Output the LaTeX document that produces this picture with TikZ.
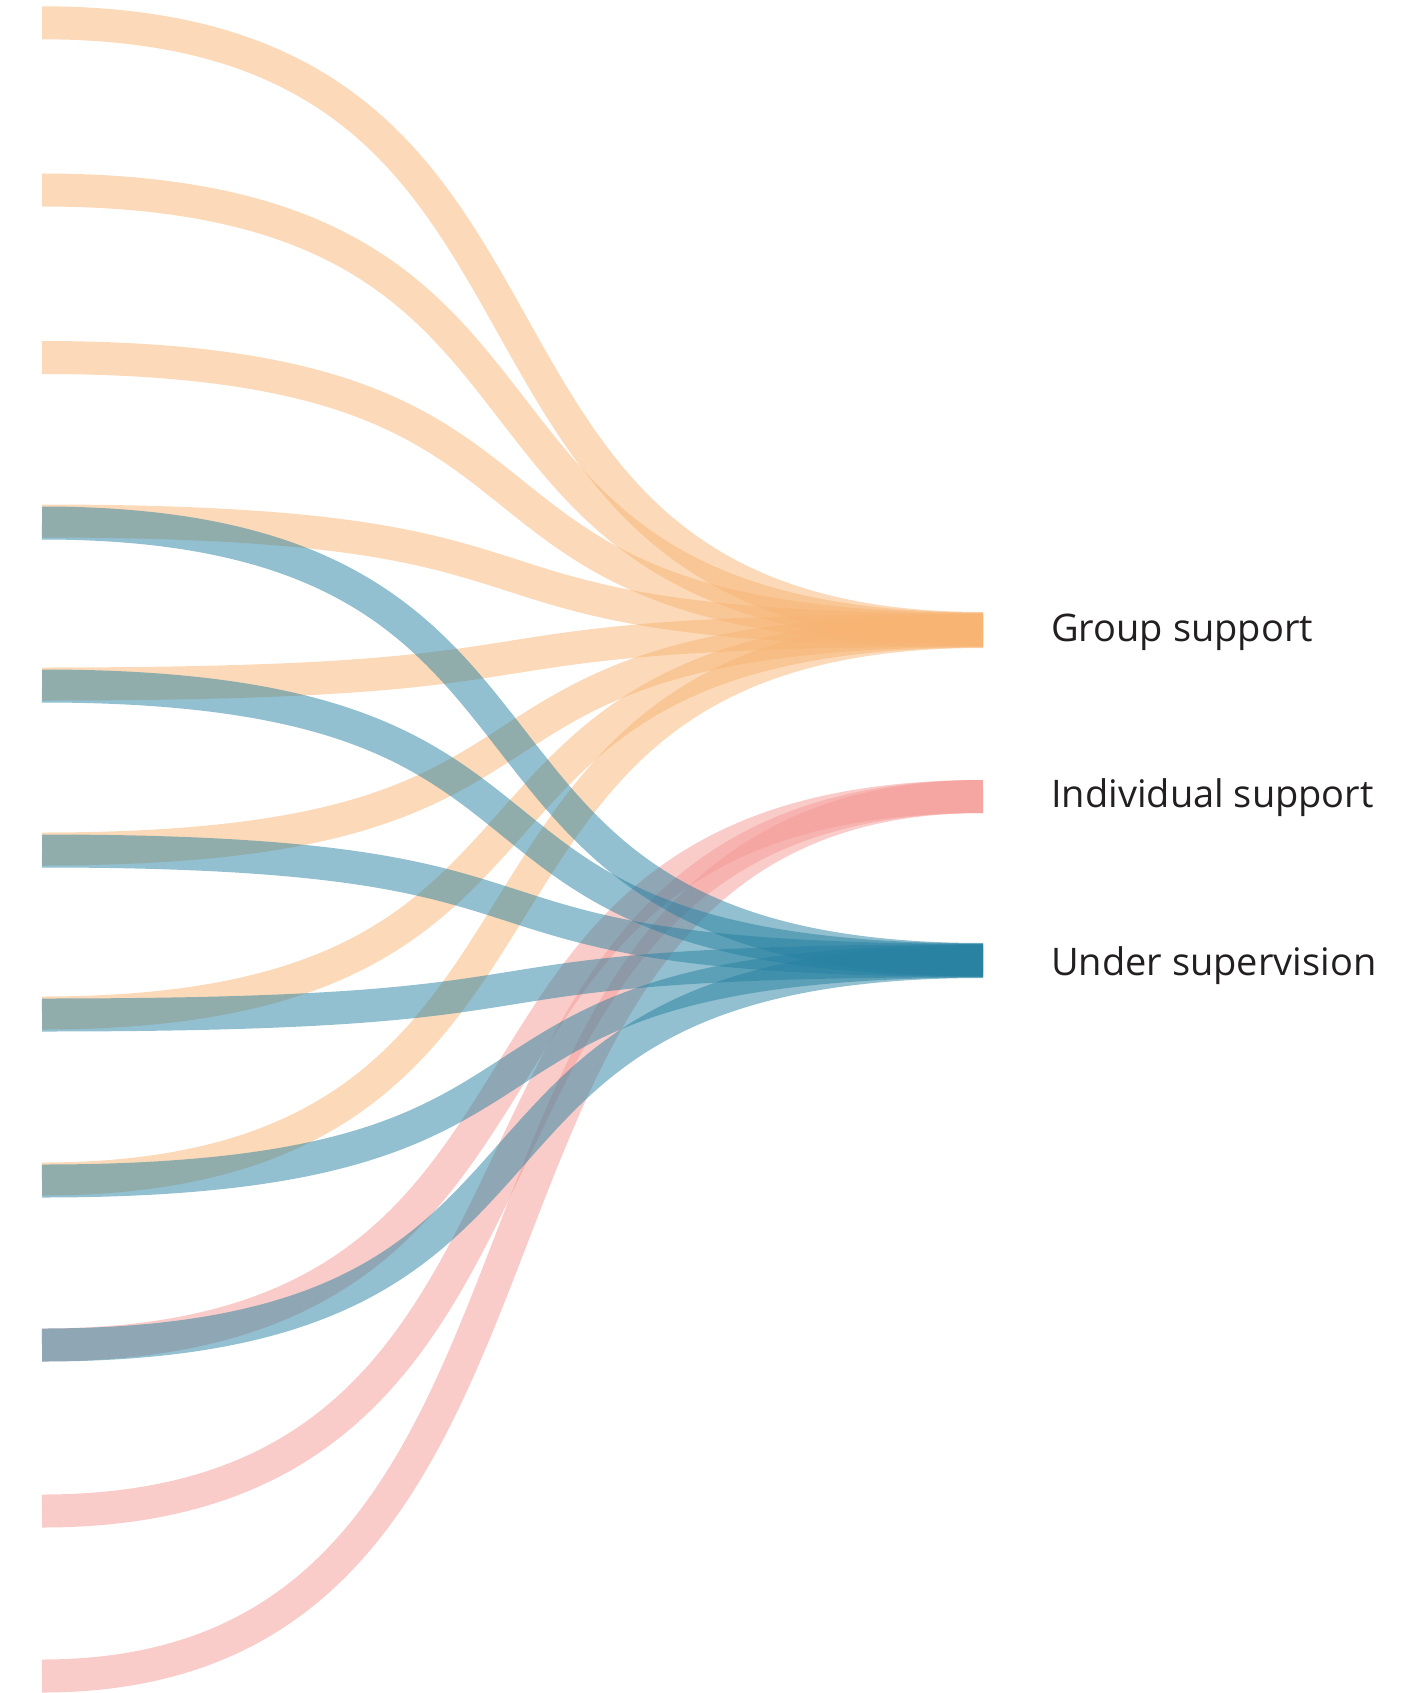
\documentclass[tikz,border=0pt]{standalone}
\usepackage{fontspec}
\setmainfont{Open Sans}
\definecolor{cgroup}{RGB}{247,180,115}
\definecolor{cindiv}{RGB}{244,154,150}
\definecolor{csuper}{RGB}{38,129,161}
\definecolor{labeltext}{RGB}{35,31,32}
\tikzset{
  flow/.style={line width=33pt, line cap=butt, draw opacity=0.5},
  gflow/.style={flow, draw=cgroup},
  iflow/.style={flow, draw=cindiv},
  sflow/.style={flow, draw=csuper},
  lab/.style={anchor=base west, inner sep=0pt, text=labeltext, font=\fontsize{38}{46}\selectfont}
}
\def\cx{602}
\begin{document}
\begin{tikzpicture}[x=1pt,y=-1pt]
\useasboundingbox (0,0) rectangle (1416,1693);
% sources
\foreach \i/\y in {1/22.8,2/190,3/357.5,4/522,5/685,6/850,7/1014,8/1180,9/1345,10/1511,11/1676}{
  \coordinate (s\i) at (42,\y);
}
% slight offsets of stacked sources
\foreach \i/\y in {4/521,5/684,6/849,7/1013,8/1179}{
  \coordinate (so\i) at (42,\y);
}
\foreach \i/\y in {4/523,5/686,6/851,7/1015,8/1181,9/1345}{
  \coordinate (sb\i) at (42,\y);
}
% targets
\foreach \i in {1,...,8}{
  \coordinate (g\i) at (983,{628.5+(\i-1)*3/7});
}
\foreach \i in {1,...,6}{
  \coordinate (u\i) at (983,{959.5+(\i-1)*2/5});
}
\coordinate (p1) at (983,796.5);
\coordinate (p2) at (983,796.5);
\coordinate (p3) at (983,796.5);

% group support flows
\draw[gflow] (s1) .. controls +(\cx,0) and +(-\cx,0) .. (g1);
\draw[gflow] (s2) .. controls +(\cx,0) and +(-\cx,0) .. (g2);
\draw[gflow] (s3) .. controls +(\cx,0) and +(-\cx,0) .. (g3);
\draw[gflow] (so4) .. controls +(\cx,0) and +(-\cx,0) .. (g4);
\draw[gflow] (so5) .. controls +(\cx,0) and +(-\cx,0) .. (g5);
\draw[gflow] (so6) .. controls +(\cx,0) and +(-\cx,0) .. (g6);
\draw[gflow] (so7) .. controls +(\cx,0) and +(-\cx,0) .. (g7);
\draw[gflow] (so8) .. controls +(\cx,0) and +(-\cx,0) .. (g8);
% individual support flows
\draw[iflow] (s9) .. controls +(\cx,0) and +(-\cx,0) .. (p1);
\draw[iflow] (s10) .. controls +(\cx,0) and +(-\cx,0) .. (p2);
\draw[iflow] (s11) .. controls +(\cx,0) and +(-\cx,0) .. (p3);
% under supervision flows
\draw[sflow] (sb4) .. controls +(\cx,0) and +(-\cx,0) .. (u1);
\draw[sflow] (sb5) .. controls +(\cx,0) and +(-\cx,0) .. (u2);
\draw[sflow] (sb6) .. controls +(\cx,0) and +(-\cx,0) .. (u3);
\draw[sflow] (sb7) .. controls +(\cx,0) and +(-\cx,0) .. (u4);
\draw[sflow] (sb8) .. controls +(\cx,0) and +(-\cx,0) .. (u5);
\draw[sflow] (sb9) .. controls +(\cx,0) and +(-\cx,0) .. (u6);

% labels
\node[lab] (lgroup) at (1051,641) {Group support};
\node[lab] (lindiv) at (1051,807) {Individual support};
\node[lab] (lsuper) at (1051,975) {Under supervision};
\end{tikzpicture}
\end{document}
